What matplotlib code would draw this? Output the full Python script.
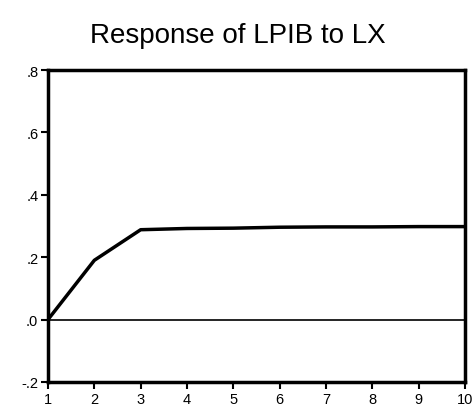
import matplotlib
matplotlib.use("Agg")
import matplotlib.pyplot as plt

# impulse response data
periods = [1, 2, 3, 4, 5, 6, 7, 8, 9, 10]
response = [0.0, 0.19, 0.288, 0.292, 0.293, 0.296, 0.297, 0.297, 0.298, 0.298]
yticks = [-0.2, 0.0, 0.2, 0.4, 0.6, 0.8]
ytick_labels = ["-.2", ".0", ".2", ".4", ".6", ".8"]

plt.rcParams["font.family"] = ["Liberation Sans", "DejaVu Sans"]

fig = plt.figure(figsize=(4.73, 4.14), dpi=100)
ax = fig.add_axes([0.1015, 0.075, 0.8815, 0.7535])

ax.axhline(0, color="black", linewidth=1.2)
ax.plot(periods, response, color="black", linewidth=2.5)

ax.set_xlim(1, 10)
ax.set_ylim(-0.2, 0.8)
ax.set_xticks(periods)
ax.set_yticks(yticks)
ax.set_yticklabels(ytick_labels)
ax.tick_params(direction="out", length=5, width=1.5, labelsize=10.5, pad=2)

for sp in ax.spines.values():
    sp.set_linewidth(2.5)

fig.text(0.502, 0.912, "Response of LPIB to LX", ha="center", va="center", fontsize=20)

fig.savefig("out.png", dpi=100)
